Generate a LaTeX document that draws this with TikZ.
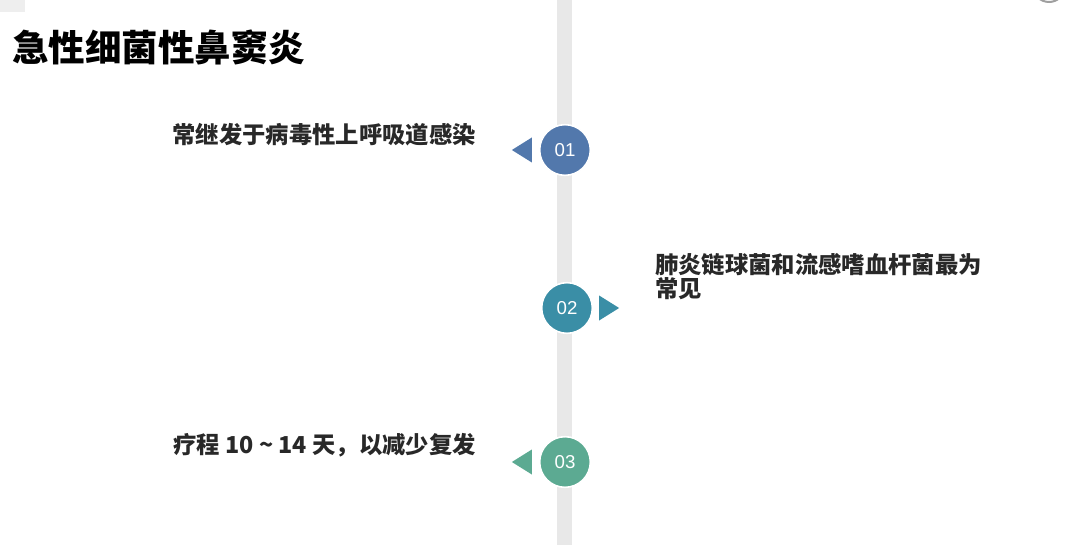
\documentclass[tikz,border=0pt]{standalone}
\usepackage{fontspec}
\setmainfont{Noto Sans CJK SC}
\newfontfamily\numfont{Liberation Sans}
\usetikzlibrary{positioning}

\begin{document}
\begin{tikzpicture}[
  x=0.75pt,y=-0.75pt,
  font=\fontsize{17.5}{18}\selectfont\bfseries,
  num/.style={circle,fill=#1,draw=white,line width=1.2pt,minimum size=38pt,inner sep=0pt,
    text=white,font=\numfont\fontsize{14}{14}\selectfont},
  lab/.style={text=txtc,inner sep=0pt,align=left},
  pointer/.style={fill=#1}]

  \definecolor{onec}{RGB}{82,120,172}
  \definecolor{twoc}{RGB}{58,142,166}
  \definecolor{threec}{RGB}{92,170,146}
  \definecolor{barc}{RGB}{232,232,232}
  \definecolor{txtc}{RGB}{40,40,40}

  \useasboundingbox (0,0) rectangle (1080,545);
  \clip (0,0) rectangle (1080,545);

  % ---- frame bits ----
  \fill[gray!13] (0,0) rectangle (25,12);
  \draw[gray!75,line width=1.5pt,fill=white] (1049,-14) circle (16);
  \fill[barc] (557,0) rectangle (572,545);

  % ---- title ----
  \node[anchor=west,inner sep=0pt,text=black,font=\fontsize{27.4}{28}\selectfont\bfseries]
    (title) at (12,47) {急性细菌性鼻窦炎};

  % ---- steps ----
  \node[num=onec] (s1) at (565,150) {01};
  \node[num=twoc] (s2) at (567,308) {02};
  \node[num=threec] (s3) at (565,462) {03};

  \fill[pointer=onec] ([xshift=-5.25pt]s1.west) -- ++(0,-12.5) -- ++(-20,12.5) -- ++(20,12.5) -- cycle;
  \fill[pointer=twoc] ([xshift=4.5pt]s2.east) -- ++(0,-12.5) -- ++(20,12.5) -- ++(-20,12.5) -- cycle;
  \fill[pointer=threec] ([xshift=-5.25pt]s3.west) -- ++(0,-12.5) -- ++(-20,12.5) -- ++(20,12.5) -- cycle;

  % ---- texts ----
  \node[lab,anchor=east] (t1) at (476,135) {常继发于病毒性上呼吸道感染};
  \node[lab,anchor=west] (t2) at (655,277) {肺炎链球菌和流感嗜血杆菌最为\\常见};
  \node[lab,anchor=east] (t3) at (476,445) {疗程 10 \textasciitilde{} 14 天，以减少复发};
\end{tikzpicture}
\end{document}
